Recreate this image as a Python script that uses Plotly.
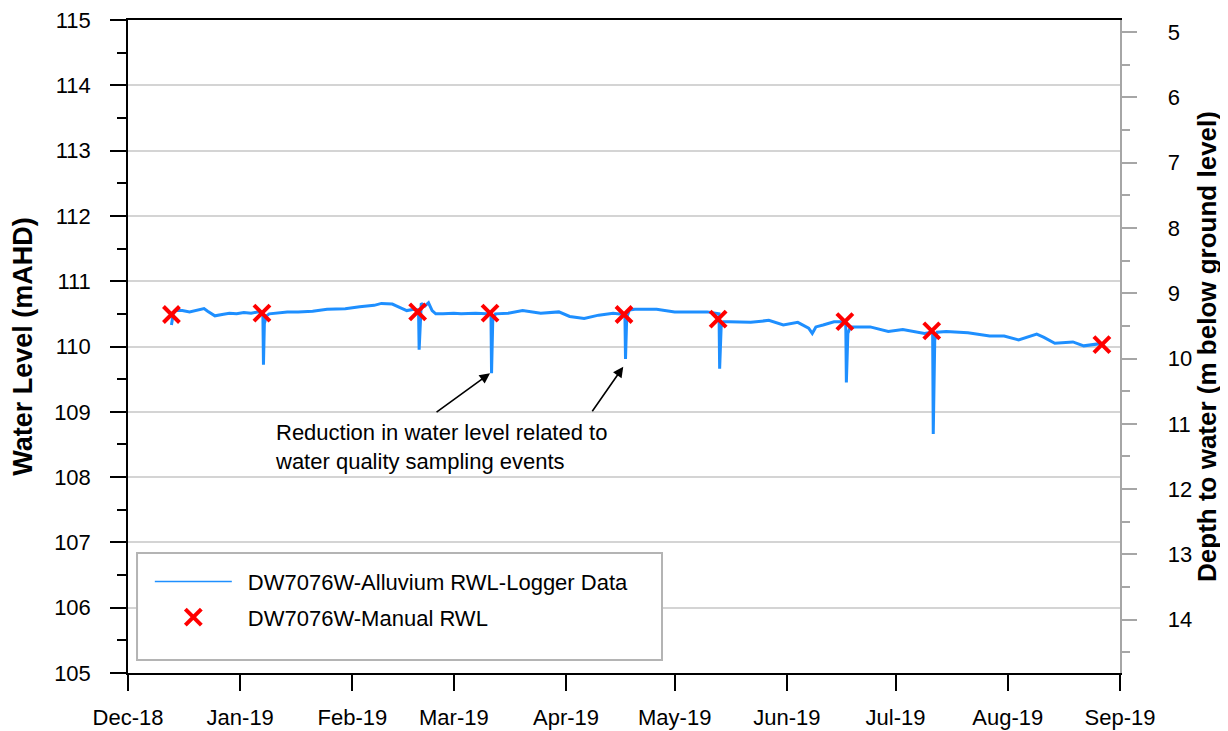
import plotly.graph_objects as go

# ---------------- data ----------------
logger_dates = [
    "2018-12-13 00:00", "2018-12-13 12:00", "2018-12-14", "2018-12-16", "2018-12-18",
    "2018-12-20", "2018-12-22", "2018-12-23", "2018-12-25", "2018-12-27",
    "2018-12-29", "2018-12-31", "2019-01-02", "2019-01-04", "2019-01-06",
    "2019-01-07 06:00", "2019-01-07 10:00", "2019-01-07 16:00", "2019-01-08 06:00", "2019-01-09",
    "2019-01-11", "2019-01-14", "2019-01-17", "2019-01-21", "2019-01-25",
    "2019-01-30", "2019-02-03", "2019-02-07", "2019-02-09", "2019-02-12",
    "2019-02-14", "2019-02-16", "2019-02-18", "2019-02-19 06:00", "2019-02-19 10:00",
    "2019-02-19 18:00", "2019-02-20", "2019-02-21", "2019-02-22", "2019-02-23",
    "2019-02-24", "2019-02-26", "2019-03-01", "2019-03-03", "2019-03-07",
    "2019-03-10", "2019-03-11 06:00", "2019-03-11 10:00", "2019-03-11 18:00", "2019-03-12 12:00",
    "2019-03-16", "2019-03-20", "2019-03-25", "2019-03-30", "2019-04-02",
    "2019-04-06", "2019-04-10", "2019-04-14", "2019-04-16", "2019-04-17 06:00",
    "2019-04-17 10:00", "2019-04-17 18:00", "2019-04-18 12:00", "2019-04-20", "2019-04-26",
    "2019-05-01", "2019-05-06", "2019-05-10", "2019-05-13 06:00", "2019-05-13 10:00",
    "2019-05-13 20:00", "2019-05-14 12:00", "2019-05-16", "2019-05-22", "2019-05-27",
    "2019-05-31", "2019-06-04", "2019-06-07", "2019-06-08", "2019-06-09",
    "2019-06-11", "2019-06-14", "2019-06-16", "2019-06-17 06:00", "2019-06-17 10:00",
    "2019-06-17 20:00", "2019-06-18 12:00", "2019-06-20", "2019-06-24", "2019-06-29",
    "2019-07-03", "2019-07-09", "2019-07-11 06:00", "2019-07-11 10:00", "2019-07-11 20:00",
    "2019-07-12 12:00", "2019-07-15", "2019-07-21", "2019-07-27", "2019-07-31",
    "2019-08-04", "2019-08-09", "2019-08-11", "2019-08-14", "2019-08-19",
    "2019-08-22", "2019-08-26", "2019-08-27",
]
logger_levels = [
    110.33, 110.50, 110.55, 110.55, 110.53,
    110.55, 110.58, 110.54, 110.47, 110.49,
    110.51, 110.50, 110.52, 110.51, 110.53,
    110.52, 109.72, 110.35, 110.47, 110.50,
    110.51, 110.53, 110.53, 110.54, 110.57,
    110.58, 110.61, 110.63, 110.66, 110.65,
    110.60, 110.55, 110.57, 110.56, 109.95,
    110.55, 110.66, 110.62, 110.67, 110.55,
    110.50, 110.50, 110.51, 110.50, 110.51,
    110.50, 110.50, 109.59, 110.40, 110.50,
    110.51, 110.55, 110.51, 110.53, 110.46,
    110.43, 110.48, 110.51, 110.50, 110.49,
    109.81, 110.45, 110.56, 110.57, 110.57,
    110.53, 110.53, 110.53, 110.50, 109.66,
    110.30, 110.38, 110.38, 110.37, 110.40,
    110.33, 110.37, 110.28, 110.20, 110.30,
    110.33, 110.38, 110.38, 110.38, 109.45,
    110.20, 110.30, 110.30, 110.30, 110.23,
    110.26, 110.20, 110.22, 108.66, 110.10,
    110.22, 110.23, 110.21, 110.16, 110.16,
    110.10, 110.19, 110.14, 110.05, 110.07,
    110.01, 110.04, 110.03,
]

manual_dates = ["2018-12-13", "2019-01-07", "2019-02-19", "2019-03-11", "2019-04-17",
                "2019-05-13", "2019-06-17", "2019-07-11", "2019-08-27"]
manual_levels = [110.49, 110.51, 110.53, 110.51, 110.49, 110.42, 110.38, 110.24, 110.03]

month_ticks = ["2018-12-01", "2019-01-01", "2019-02-01", "2019-03-01", "2019-04-01",
               "2019-05-01", "2019-06-01", "2019-07-01", "2019-08-01", "2019-09-01"]
month_labels = ["Dec-18", "Jan-19", "Feb-19", "Mar-19", "Apr-19",
                "May-19", "Jun-19", "Jul-19", "Aug-19", "Sep-19"]

depth_minor_ticks = [4.5, 5.5, 6.5, 7.5, 8.5, 9.5, 10.5, 11.5, 12.5, 13.5, 14.5]

DEPTH_REF = 119.816  # depth (m bgl) = DEPTH_REF - water level (mAHD)

FONT = "Arial, Liberation Sans, sans-serif"
BLUE = "#1E8FFF"
PAD = "\u2002"  # small gap between legend symbol and text

fig = go.Figure()

fig.add_trace(go.Scatter(
    x=logger_dates, y=logger_levels, mode="lines",
    line=dict(color=BLUE, width=3), showlegend=False,
    name="DW7076W-Alluvium RWL-Logger Data",
))
# legend-only entry (thin line like reference legend)
fig.add_trace(go.Scatter(
    x=[None], y=[None], mode="lines", line=dict(color=BLUE, width=1.5),
    name=PAD + "DW7076W-Alluvium RWL-Logger Data", legendgroup="a",
))
fig.add_trace(go.Scatter(
    x=manual_dates, y=manual_levels, mode="markers",
    marker=dict(symbol="x-thin", size=16, line=dict(color="#FF0000", width=4), color="#FF0000"),
    name=PAD + "DW7076W-Manual RWL", legendgroup="b",
))
# invisible trace carrying the depth axis
fig.add_trace(go.Scatter(
    x=manual_dates, y=[DEPTH_REF - v for v in manual_levels], yaxis="y2",
    mode="markers", marker=dict(opacity=0), showlegend=False, hoverinfo="skip",
))

# the page body has an 8 px margin, so the figure is 8 px smaller and margins shifted
fig.update_layout(
    width=1220, height=723,
    margin=dict(l=120, r=108, t=12, b=58, autoexpand=False),
    paper_bgcolor="white", plot_bgcolor="white",
    font=dict(family=FONT, size=22, color="black"),
    showlegend=True,
    legend=dict(
        x=0.022, y=0.172, xanchor="left", yanchor="top",
        bgcolor="rgba(0,0,0,0)", borderwidth=0,
        font=dict(family=FONT, size=22, color="black"),
        itemwidth=77, traceorder="grouped", tracegroupgap=4,
    ),
    xaxis=dict(
        type="date", range=["2018-12-01", "2019-09-01"],
        tickmode="array", tickvals=month_ticks, ticktext=month_labels,
        ticks="outside", ticklen=16, tickwidth=1.5, tickcolor="black",
        showline=True, linecolor="black", linewidth=2, mirror=True,
        showgrid=False, zeroline=False, automargin=False,
        tickfont=dict(size=22), ticklabelstandoff=8, ticklabeloverflow="allow",
    ),
    yaxis=dict(
        range=[105, 115], dtick=1, tick0=105,
        ticks="outside", ticklen=16, tickwidth=1.5, tickcolor="black",
        minor=dict(dtick=0.5, ticks="outside", ticklen=9, tickcolor="black", tickwidth=1.5, showgrid=False),
        showline=True, linecolor="black", linewidth=1.5,
        showgrid=True, gridcolor="#d4d4d4", gridwidth=1.5, zeroline=False,
        automargin=False, ticklabeloverflow="allow",
        tickfont=dict(size=22), ticklabelstandoff=15,
        title=dict(text="<b>Water Level (mAHD)</b>", font=dict(size=27), standoff=14),
    ),
    yaxis2=dict(
        overlaying="y", side="right",
        range=[DEPTH_REF - 105, DEPTH_REF - 115],
        tickmode="linear", tick0=5, dtick=1, tickprefix="\u2003\u2009",
        ticks="outside", ticklen=15, tickwidth=1.5, tickcolor="#a6a6a6",
        minor=dict(tickvals=depth_minor_ticks, ticks="outside", ticklen=8,
                   tickcolor="#a6a6a6", tickwidth=1.5, showgrid=False),
        showline=True, linecolor="#a6a6a6", linewidth=2,
        showgrid=False, zeroline=False, automargin=False, ticklabeloverflow="allow",
        tickfont=dict(size=22),
        title=dict(text="<b>Depth to water (m below ground level)</b>", font=dict(size=26), standoff=3),
    ),
    shapes=[dict(
        type="rect", xref="paper", yref="paper",
        x0=0.0091, x1=0.5383, y0=0.0199, y1=0.1838,
        line=dict(color="#b4b4b4", width=2), fillcolor="white", layer="above",
    )],
    annotations=[
        dict(x="2019-01-10", y=108.9, xref="x", yref="y", xanchor="left", yanchor="top",
             align="left", showarrow=False,
             text="Reduction in water level related to<br>water quality sampling events",
             font=dict(family=FONT, size=22, color="black")),
        dict(x="2019-03-11 00:00", y=109.59, xref="x", yref="y", text="",
             showarrow=True, arrowhead=2, arrowsize=1.3, arrowwidth=1.6, arrowcolor="black",
             ax=-55, ay=40),
        dict(x="2019-04-16 19:00", y=109.69, xref="x", yref="y", text="",
             showarrow=True, arrowhead=2, arrowsize=1.3, arrowwidth=1.6, arrowcolor="black",
             ax=-32, ay=46),
    ],
)

fig.write_html("out.html")
